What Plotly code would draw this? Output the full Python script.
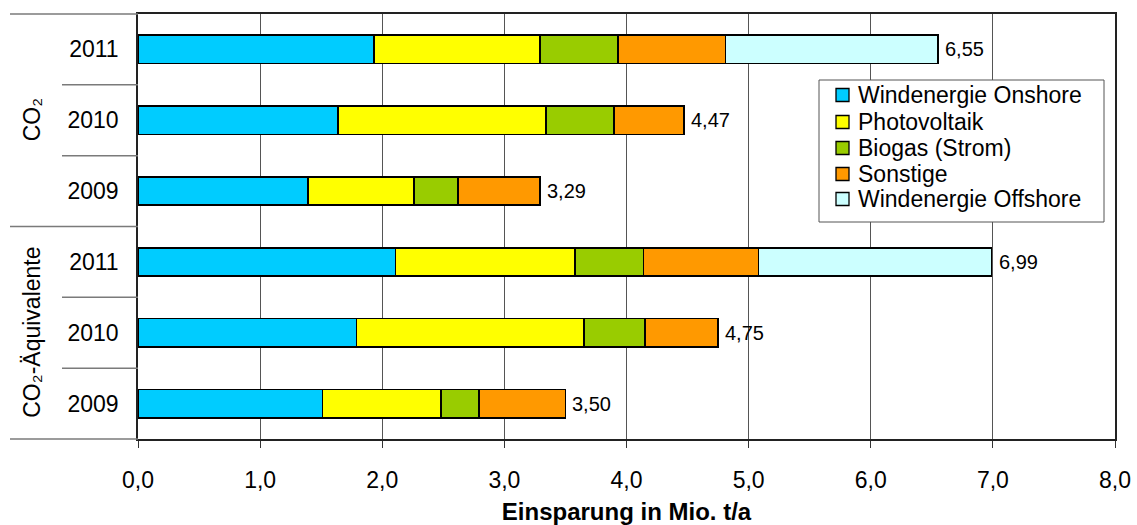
import plotly.graph_objects as go

# Avoided emissions by energy source (Mio. t/a)
groups = ["CO₂", "CO₂-Äquivalente"]
years = ["2011", "2010", "2009"]

sources = ["Windenergie Onshore", "Photovoltaik", "Biogas (Strom)", "Sonstige", "Windenergie Offshore"]
colors = ["#00CCFF", "#FFFF00", "#99CC00", "#FF9900", "#CCFFFF"]

# values per category, order: CO2 2011, 2010, 2009, CO2-Äq. 2011, 2010, 2009
wind_onshore = [1.93, 1.64, 1.39, 2.11, 1.79, 1.51]
photovoltaik = [1.36, 1.70, 0.87, 1.47, 1.86, 0.97]
biogas = [0.64, 0.56, 0.36, 0.56, 0.50, 0.31]
sonstige = [0.88, 0.57, 0.67, 0.94, 0.60, 0.71]
wind_offshore = [1.74, 0.00, 0.00, 1.91, 0.00, 0.00]

series = [wind_onshore, photovoltaik, biogas, sonstige, wind_offshore]
x_ticks = [0, 1, 2, 3, 4, 5, 6, 7, 8]

FONT = "Liberation Sans, Arial, sans-serif"
W, H = 1137, 525
ML, MR, MT, MB = 138, 22, 14, 86
PW, PH = W - ML - MR, H - MT - MB


def px_x(x):
    """pixel column -> paper x"""
    return (x - ML) / PW


def px_y(y):
    """pixel row -> paper y"""
    return (H - MB - y) / PH


cats = [f"{g}|{y}" for g in groups for y in years]
tick_years = [y for g in groups for y in years]

fig = go.Figure()
for name, vals, col in zip(sources, series, colors):
    fig.add_trace(go.Bar(
        y=cats, x=vals, name=name, orientation="h", showlegend=False,
        marker=dict(color=col, line=dict(color="#000000", width=1.6)),
    ))

# total value labels at the end of each bar
totals = [round(sum(s[i] for s in series), 2) for i in range(len(cats))]
for c, t in zip(cats, totals):
    fig.add_annotation(
        x=t, y=c, xref="x", yref="y", text=f"{t:.2f}".replace(".", ","),
        showarrow=False, xanchor="left", xshift=5,
        font=dict(family=FONT, size=20, color="#000000"),
    )

# group labels on the left
n = len(cats)
for gi, g in enumerate(groups):
    yc = 1 - (gi * len(years) + len(years) / 2) / n
    fig.add_annotation(
        x=px_x(32), y=yc, xref="paper", yref="paper", text=g, textangle=-90,
        xanchor="center", yanchor="middle",
        showarrow=False, font=dict(family=FONT, size=23, color="#000000"),
    )

shapes = []
# category separators in the label area
for k in range(n + 1):
    yk = 1 - k / n
    x0 = px_x(10) if k % len(years) == 0 else px_x(62)
    shapes.append(dict(type="line", xref="paper", yref="paper",
                       x0=x0, x1=0, y0=yk, y1=yk,
                       line=dict(color="#7a7a7a", width=1.5)))

# legend box with colour keys
shapes.append(dict(type="rect", xref="paper", yref="paper",
                   x0=px_x(819), x1=px_x(1104), y0=px_y(80), y1=px_y(222),
                   fillcolor="#FFFFFF", line=dict(color="#555555", width=1),
                   layer="above"))
row_y = [95, 122, 148, 174, 199]
for name, col, ry in zip(sources, colors, row_y):
    shapes.append(dict(type="rect", xref="paper", yref="paper",
                       x0=px_x(836), x1=px_x(849), y0=px_y(ry - 6.5), y1=px_y(ry + 6.5),
                       fillcolor=col, line=dict(color="#000000", width=1.3),
                       layer="above"))
    fig.add_annotation(
        x=px_x(856), y=px_y(ry), xref="paper", yref="paper", text=name,
        xanchor="left", yanchor="middle", showarrow=False,
        font=dict(family=FONT, size=23, color="#000000"),
    )
fig.update_layout(shapes=shapes)

fig.update_layout(
    width=W, height=H,
    margin=dict(l=ML, r=MR, t=MT, b=MB),
    paper_bgcolor="#FFFFFF", plot_bgcolor="#FFFFFF",
    barmode="stack", bargap=0.6,
    separators=", ",
    showlegend=False,
    font=dict(family=FONT, color="#000000"),
    xaxis=dict(
        range=[0, 8], tickvals=x_ticks, tickformat=".1f",
        showgrid=True, gridcolor="#555555", gridwidth=1,
        showline=True, linecolor="#222222", linewidth=1.5, mirror=True,
        ticks="outside", ticklen=7, tickcolor="#333333",
        ticklabelstandoff=13, automargin=False,
        tickfont=dict(family=FONT, size=23, color="#000000"),
        title=dict(text="<b>Einsparung in Mio. t/a</b>",
                   font=dict(family=FONT, size=24, color="#000000"), standoff=14),
        zeroline=False,
    ),
    yaxis=dict(
        categoryorder="array", categoryarray=cats, autorange="reversed",
        tickvals=cats, ticktext=tick_years, ticks="",
        ticklabelstandoff=13, automargin=False,
        tickfont=dict(family=FONT, size=23, color="#000000"),
        showline=True, linecolor="#222222", linewidth=1.5, mirror=True,
        showgrid=False,
    ),
)

fig.write_html("out.html")
